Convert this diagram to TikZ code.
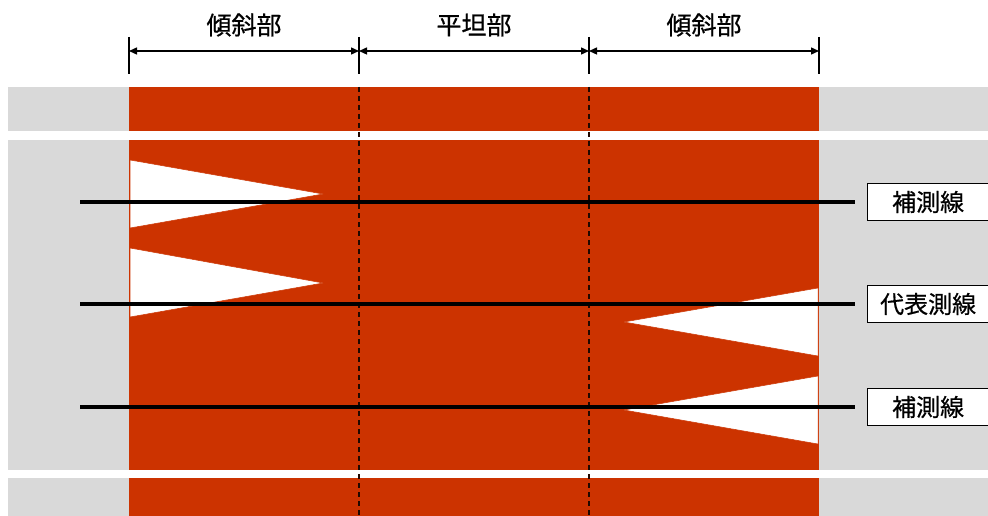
\documentclass[tikz,border=0pt]{standalone}
\usepackage{fontspec}
\newfontfamily\jp[FakeBold=0.6]{Noto Sans CJK JP}
\usetikzlibrary{arrows.meta}
\definecolor{road}{HTML}{CC3300}
\definecolor{shoulder}{HTML}{D9D9D9}
\tikzset{
  greyband/.style={fill=shoulder, draw=none},
  redband/.style={fill=road, draw=none},
  gap/.style={fill=white, draw=road, line width=0.5pt},
  sectiondiv/.style={line width=1.1pt, black!85!road, dash pattern=on 5pt off 4pt},
  tick/.style={line width=1.5pt, black},
  dim/.style={line width=1.4pt, black, {Triangle[length=8pt,width=7pt]}-{Triangle[length=8pt,width=7pt]}},
  survey/.style={line width=4pt, black},
  lbl/.style={font=\jp\fontsize{25}{27}\selectfont, text=black},
  tag/.style={draw=black, line width=1.2pt, fill=white, font=\jp\fontsize{24}{26}\selectfont, minimum height=37pt, inner sep=0pt, anchor=west}
}
\begin{document}
\begin{tikzpicture}[x=1pt,y=-1pt]
\useasboundingbox (0,0) rectangle (988,516);
% bands
\fill[greyband] (8,87) rectangle (988,131);
\fill[greyband] (8,140) rectangle (988,470);
\fill[greyband] (8,478) rectangle (988,516);
\fill[redband] (129,87) rectangle (819,131);
\fill[redband] (129,140) rectangle (819,470);
\fill[redband] (129,478) rectangle (819,516);
% white wedges
\fill[gap] (130,160) -- (323,194) -- (130,228) -- cycle;
\fill[gap] (130,248) -- (323,283) -- (130,317) -- cycle;
\fill[gap] (818,288) -- (624,322) -- (818,356) -- cycle;
\fill[gap] (818,376) -- (624,410) -- (818,444) -- cycle;
% section dividers
\draw[sectiondiv] (359,87) -- (359,516);
\draw[sectiondiv] (589,87) -- (589,516);
% dimension ticks
\coordinate (t0) at (129,51); \coordinate (t1) at (359,51);
\coordinate (t2) at (589,51); \coordinate (t3) at (819,51);
\foreach \x in {129,359,589,819} \draw[tick] (\x,37) -- (\x,74);
\draw[dim] (t0) -- (t1);
\draw[dim] (t1) -- (t2);
\draw[dim] (t2) -- (t3);
\node[lbl] (s1) at (244,25) {傾斜部};
\node[lbl] (s2) at (474,25) {平坦部};
\node[lbl] (s3) at (704,25) {傾斜部};
% survey lines and tags
\node[tag, minimum width=121pt] (a) at (867,202) {補測線};
\node[tag, minimum width=121pt] (b) at (867,304) {代表測線};
\node[tag, minimum width=121pt] (c) at (867,407) {補測線};
\coordinate (a0) at (80,202);
\coordinate (b0) at (80,304);
\coordinate (c0) at (80,407);
\draw[survey] (a0) -- ([xshift=-12pt]a.west);
\draw[survey] (b0) -- ([xshift=-12pt]b.west);
\draw[survey] (c0) -- ([xshift=-12pt]c.west);
\end{tikzpicture}
\end{document}
